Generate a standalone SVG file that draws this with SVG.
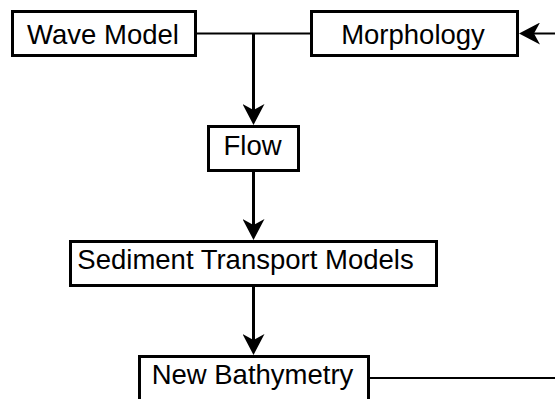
<svg xmlns="http://www.w3.org/2000/svg" width="555" height="399" viewBox="0 0 555 399">
  <style>
    .box { fill: #ffffff; stroke: #000000; stroke-width: 3; }
    .lbl { font-family: "Liberation Sans", Arial, sans-serif; font-size: 27.5px; fill: #000000; text-anchor: middle; }
    .edge { fill: none; stroke: #000000; stroke-width: 3; }
    .thin { stroke-width: 2; }
  </style>
  <defs>
    <marker id="arrow" viewBox="0 0 21 22" refX="6" refY="11" markerWidth="21" markerHeight="22" markerUnits="userSpaceOnUse" orient="auto">
      <path d="M21,11 L0,0 L6,11 L0,22 Z" fill="#000000"/>
    </marker>
  </defs>
  <rect width="555" height="399" fill="#ffffff"/>
  <g id="connectors">
    <line class="edge thin" x1="197" y1="33.5" x2="310" y2="33.5"/>
    <line class="edge" x1="253.5" y1="33.5" x2="253.5" y2="110" marker-end="url(#arrow)"/>
    <line class="edge" x1="253.5" y1="172" x2="253.5" y2="225" marker-end="url(#arrow)"/>
    <line class="edge" x1="253.5" y1="287" x2="253.5" y2="340" marker-end="url(#arrow)"/>
    <line class="edge thin" x1="369" y1="378" x2="555" y2="378"/>
    <line class="edge thin" x1="555" y1="33.5" x2="534" y2="33.5" marker-end="url(#arrow)"/>
  </g>
  <g id="wave-model">
    <rect class="box" x="12.5" y="11.5" width="183" height="44"/>
    <text class="lbl" x="103" y="43.5">Wave Model</text>
  </g>
  <g id="morphology">
    <rect class="box" x="311.5" y="11.5" width="206" height="44"/>
    <text class="lbl" x="413" y="43.5">Morphology</text>
  </g>
  <g id="flow">
    <rect class="box" x="208.5" y="126.5" width="90" height="44"/>
    <text class="lbl" x="252.5" y="154.5">Flow</text>
  </g>
  <g id="sediment-transport-models">
    <rect class="box" x="70.5" y="241.5" width="366" height="44"/>
    <text class="lbl" x="245.5" y="269">Sediment Transport Models</text>
  </g>
  <g id="new-bathymetry">
    <rect class="box" x="139.5" y="356.5" width="229" height="44"/>
    <text class="lbl" x="252.5" y="384">New Bathymetry</text>
  </g>
</svg>
